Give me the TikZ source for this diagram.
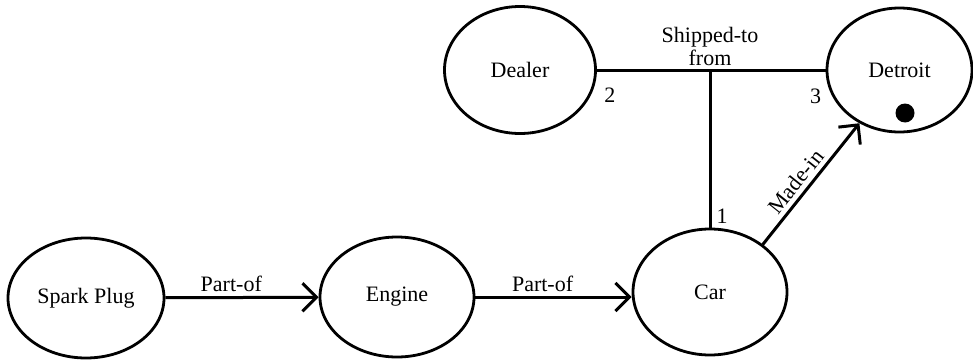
\documentclass[tikz,border=0pt]{standalone}
\usepackage{fontspec}
\setmainfont{Liberation Serif}
\usetikzlibrary{positioning, arrows.meta, shapes.geometric}

\begin{document}
\begin{tikzpicture}[
  x=1pt, y=1pt,
  font=\fontsize{11}{12}\selectfont,
  enode/.style={draw, ellipse, line width=1.4pt, inner sep=2pt,
                minimum width=77pt, minimum height=60pt},
  rel/.style={-{Straight Barb[length=7pt, width=14pt]}, line width=1.5pt},
  link/.style={line width=1.5pt},
  rlab/.style={inner sep=2pt},
  num/.style={inner sep=0pt}
]
\useasboundingbox (0,0) rectangle (486.5,180);
% entities
\node[enode, minimum width=78pt] (spark) at (43,31) {Spark Plug};
\node[enode] (engine) at (198.5,31.5) {Engine};
\node[enode, minimum height=63pt] (car) at (355,34) {Car};
\node[enode, minimum width=75.5pt, minimum height=63.5pt]
  (dealer) at (260,145) {Dealer};
\node[enode, minimum width=72.5pt, minimum height=62pt]
  (detroit) at (449.75,145) {Detroit};
\node[circle, fill, minimum size=9.5pt, inner sep=0pt]
  (dot) at ([shift={(2.75pt,-21.5pt)}]detroit.center) {};
% binary relations
\draw[rel] (spark)   -- node[rlab, above, pos=0.43] {Part-of} (engine);
\draw[rel] (engine.east) -- node[rlab, above, pos=0.43] {Part-of}
  (engine.east -| car.west);
\draw[rel] (car.42)  -- node[rlab, above, sloped, pos=0.45] {Made-in} (detroit.233);
% ternary relation
\coordinate (hub) at (car.north |- dealer.east);
\draw[link] (dealer.east) -- (detroit.west);
\draw[link] (hub) -- (car.north);
\node[rlab, above, align=center] (ship) at (hub) {Shipped-to\\[-0.5pt]from};
\node[num] (n2) at ([shift={(6.5pt,-12.5pt)}]dealer.east) {2};
\node[num] (n3) at ([shift={(-5pt,-13pt)}]detroit.west) {3};
\node[num] (n1) at ([shift={(6pt,5.5pt)}]car.north) {1};
\end{tikzpicture}
\end{document}
